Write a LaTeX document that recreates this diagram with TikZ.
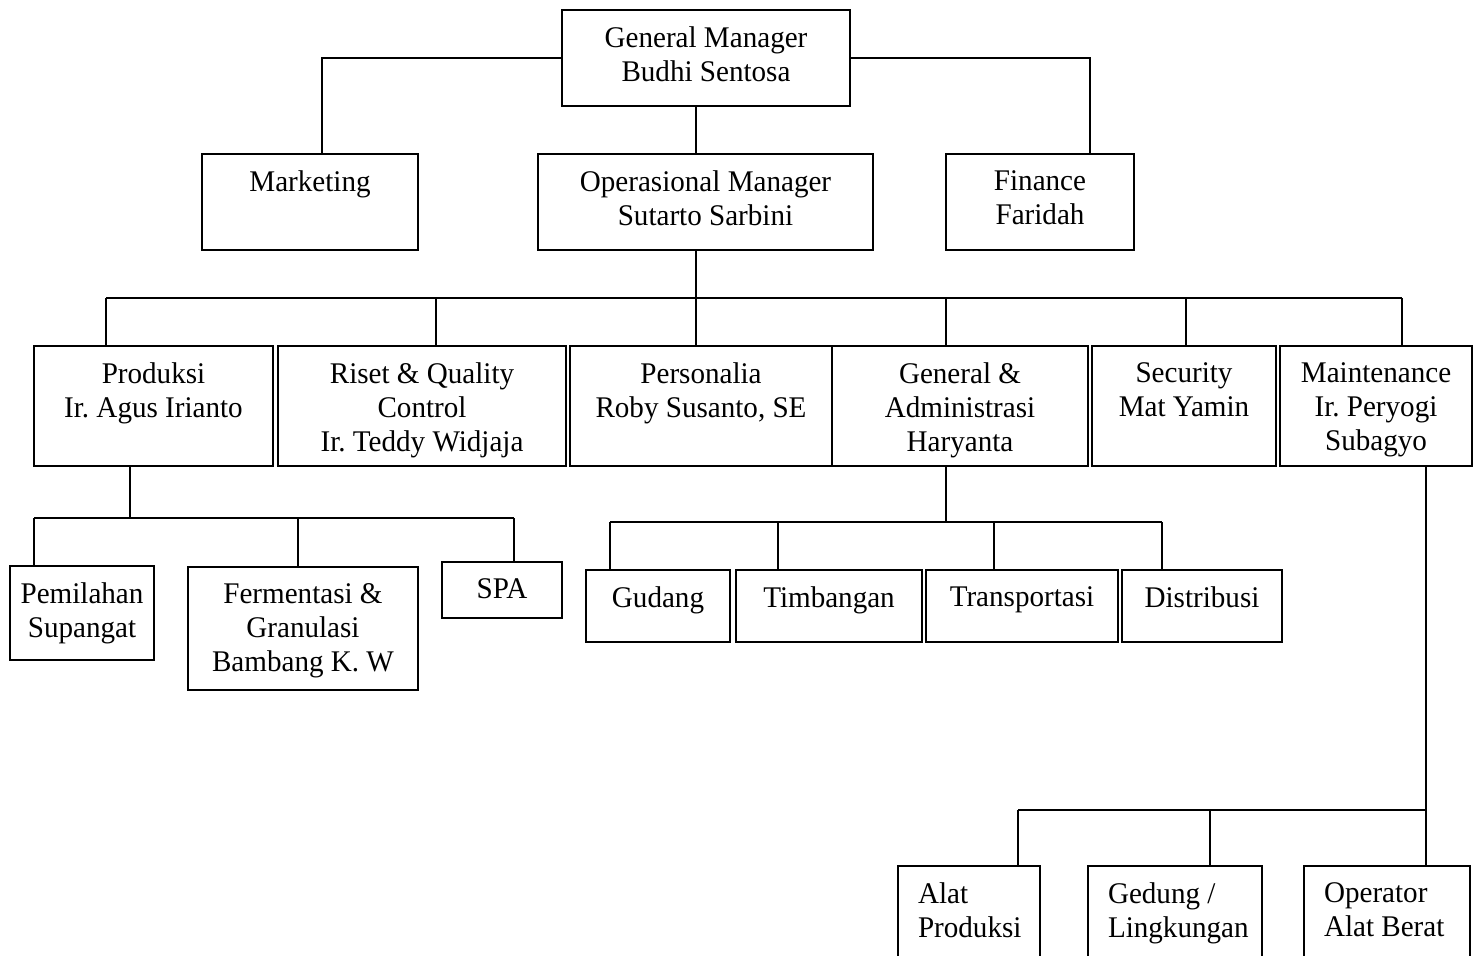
\documentclass[tikz,border=0pt]{standalone}
\usepackage{fontspec}
\setmainfont{Liberation Serif}[FakeStretch=0.97]
\frenchspacing
\begin{document}
\begin{tikzpicture}[x=0.4pt,y=-0.4pt,line width=0.8pt,
  orgbox/.style n args={2}{draw,rectangle,inner sep=0pt,
    minimum width=#1*0.4pt,minimum height=#2*0.4pt},
  orgtext/.style={align=center,inner sep=0pt,anchor=north,
    font=\fontsize{12}{13.6}\selectfont},
  orgtextl/.style={orgtext,align=left,anchor=north west}]
\clip (0,0) rectangle (1478,955);
% kotak dengan teks di tengah
\foreach \n/\cx/\cy/\w/\h/\txt in
{gm/706/58/288/96/{General Manager\\Budhi Sentosa},
 mkt/310/202/216/96/{Marketing},
 opm/705.5/202/335/96/{Operasional Manager\\Sutarto Sarbini},
 fin/1040/202/188/96/{Finance\\Faridah},
 prod/153.5/406/239/120/{Produksi\\Ir. Agus Irianto},
 riset/422/406/288/120/{Riset \& Quality\\Control\\Ir. Teddy Widjaja},
 pers/701/406/262/120/{Personalia\\Roby Susanto, SE},
 gena/960/406/256/120/{General \&\\Administrasi\\Haryanta},
 sec/1184/406/184/120/{Security\\Mat Yamin},
 maint/1376/406/192/120/{Maintenance\\Ir. Peryogi\\Subagyo},
 pemil/82/613/144/94/{Pemilahan\\Supangat},
 ferm/303/628.5/230/123/{Fermentasi \&\\Granulasi\\Bambang K. W},
 spa/502/590/120/56/{SPA},
 gud/658/606/144/72/{Gudang},
 timb/829/606/186/72/{Timbangan},
 trans/1022/606/192/72/{Transportasi},
 dist/1202/606/160/72/{Distribusi}}
{
  \node[orgbox={\w}{\h}] (\n) at (\cx,\cy) {};
  \node[orgtext] (\n-t) at ([yshift=-6.5pt]\n.north) {\txt};
}
% kotak paling bawah, teks rata kiri
\foreach \n/\cx/\w/\txt in
{alat/969/142/{Alat\\Produksi},
 ged/1175/174/{Gedung /\\Lingkungan},
 oper/1387/166/{Operator\\Alat Berat}}
{
  \node[orgbox={\w}{200}] (\n) at (\cx,966) {};
  \node[orgtextl] (\n-t) at ([xshift=8pt,yshift=-6.5pt]\n.north west) {\txt};
}
% garis dari general manager
\coordinate (mktdrop) at (322,154);
\coordinate (findrop) at (1090,154);
\coordinate (opdrop) at (696,0);
\draw (gm.west) -| (mktdrop);
\draw (gm.east) -| (findrop);
\draw (gm.south -| opdrop) -- (opm.north -| opdrop);
% bus operasional
\coordinate (bus2l) at (106,298);
\coordinate (bus2r) at (1402,298);
\draw (opm.south -| opdrop) -- (bus2l -| opdrop);
\draw (bus2l) -- (bus2r);
\foreach \n/\x in {prod/106,riset/436,pers/696,gena/946,sec/1186,maint/1402}
{
  \draw (bus2l -| \x,0) -- (\n.north -| \x,0);
}
% bus produksi
\coordinate (bus3l) at (34,518);
\coordinate (bus3r) at (514,518);
\draw (prod.south -| 130,0) -- (bus3l -| 130,0);
\draw (bus3l) -- (bus3r);
\foreach \n/\x in {pemil/34,ferm/298,spa/514}
{
  \draw (bus3l -| \x,0) -- (\n.north -| \x,0);
}
% bus general & administrasi
\coordinate (bus4l) at (610,522);
\coordinate (bus4r) at (1162,522);
\draw (gena.south -| 946,0) -- (bus4l -| 946,0);
\draw (bus4l) -- (bus4r);
\foreach \n/\x in {gud/610,timb/778,trans/994,dist/1162}
{
  \draw (bus4l -| \x,0) -- (\n.north -| \x,0);
}
% bus maintenance
\coordinate (bus5l) at (1018,810);
\coordinate (bus5r) at (1426,810);
\draw (maint.south -| bus5r) -- (oper.north -| bus5r);
\draw (bus5l) -- (bus5r);
\foreach \n/\x in {alat/1018,ged/1210}
{
  \draw (bus5l -| \x,0) -- (\n.north -| \x,0);
}
\end{tikzpicture}
\end{document}
